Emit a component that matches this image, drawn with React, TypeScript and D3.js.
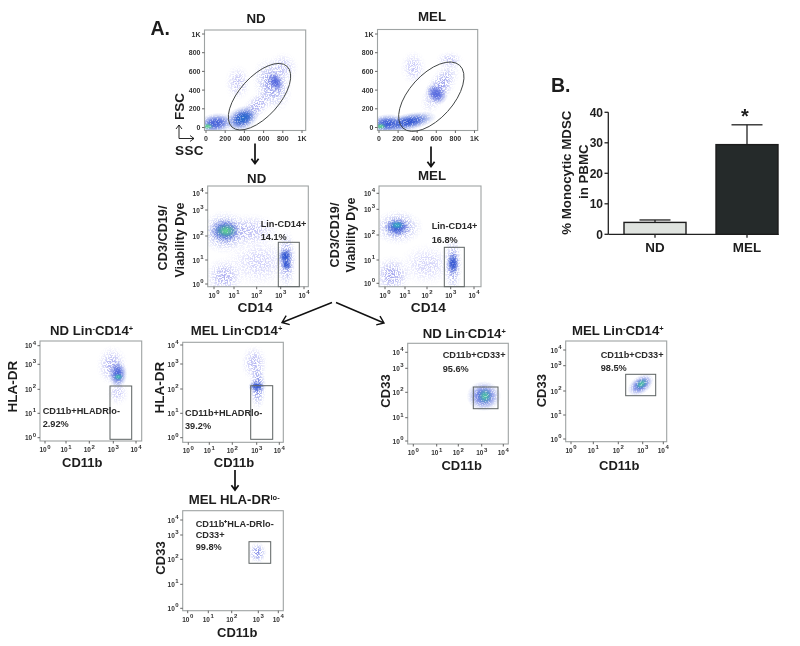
import React from "react";
import * as d3 from "d3";

// ---------- data ----------
// population summaries: [centre x, centre y, extent x, extent y, tilt deg, relative density]
type Cloud = number[];
const ndScatterClouds: Cloud[] = [
  [330, 480, 140, 200, 0, 0.13],
  [800, 640, 170, 170, 0, 0.12],
  [530, 230, 260, 120, 45, 0.26],
  [690, 460, 200, 300, 20, 0.38],
  [725, 490, 80, 120, 30, 0.6],
  [100, 45, 200, 110, 8, 0.68],
  [375, 95, 185, 130, 25, 0.76],
  [385, 100, 120, 75, 25, 0.84],
  [18, 12, 65, 38, 0, 1],
];
const melScatterClouds: Cloud[] = [
  [360, 640, 140, 190, 0, 0.12],
  [740, 720, 150, 100, 0, 0.12],
  [640, 430, 340, 140, 58, 0.34],
  [600, 360, 100, 130, 50, 0.6],
  [80, 40, 200, 105, 5, 0.72],
  [310, 60, 300, 95, 12, 0.78],
  [18, 12, 65, 38, 0, 1],
];
const ndLineageClouds: Cloud[] = [
  [1.7, 2.2, 1.3, 0.7, 0, 0.16],
  [2.1, 0.9, 1.5, 1.1, 0, 0.05],
  [0.5, 0.3, 0.95, 0.85, 0, 0.24],
  [0.55, 2.15, 1.2, 0.85, 0, 0.42],
  [3.25, 1.0, 0.45, 1.3, 0, 0.38],
  [0.55, 2.2, 0.75, 0.5, 0, 0.74],
  [3.2, 1.15, 0.32, 0.36, 0, 0.8],
  [3.25, 0.8, 0.25, 0.26, 0, 0.78],
  [0.6, 2.2, 0.55, 0.3, 0, 1],
];
const melLineageClouds: Cloud[] = [
  [2.0, 0.8, 1.2, 0.9, 0, 0.05],
  [0.35, 0.35, 0.95, 0.85, 0, 0.3],
  [0.65, 2.3, 1.2, 0.7, 0, 0.4],
  [3.1, 0.8, 0.42, 1.25, 0, 0.4],
  [0.6, 2.3, 0.65, 0.38, 0, 0.72],
  [3.1, 0.85, 0.28, 0.5, 0, 0.76],
  [0.6, 2.38, 0.38, 0.18, 0, 0.93],
];
const ndDrClouds: Cloud[] = [
  [2.95, 2.95, 0.7, 1.1, 0, 0.26],
  [3.2, 1.85, 0.5, 0.55, 0, 0.08],
  [3.2, 2.6, 0.42, 0.62, 0, 0.65],
  [3.22, 2.5, 0.24, 0.16, 0, 0.95],
];
const melDrClouds: Cloud[] = [
  [2.9, 3.05, 0.6, 1, 0, 0.2],
  [3.05, 2.1, 0.38, 1, 0, 0.48],
  [3.0, 2.1, 0.38, 0.24, 0, 0.74],
];
const ndCd33Clouds: Cloud[] = [
  [3.1, 1.85, 0.8, 0.62, 0, 0.62],
  [3.15, 1.85, 0.36, 0.34, 0, 0.97],
];
const melCd33Clouds: Cloud[] = [
  [2.92, 2.24, 0.7, 0.36, 35, 0.62],
  [2.95, 2.28, 0.36, 0.2, 35, 0.97],
];
const hlaLowCd33Clouds: Cloud[] = [[2.97, 2.27, 0.46, 0.46, 0, 0.42]];

const scatterTicks = [0, 200, 400, 600, 800, 1000];
const decades = [0, 1, 2, 3, 4];

const barCategories = ["ND", "MEL"];
const barValues = [3.9, 29.4];
const barErrorTops = [4.7, 35.9];
const barTicks = [0, 10, 20, 30, 40];

// ---------- look ----------
const SANS = "'Liberation Sans', Arial, sans-serif";
const INK = "#1d1d1d";
const density = d3
  .scaleLinear<string>()
  .domain([0, 0.3, 0.6, 0.8, 0.92, 1])
  .range(["#d9d9fb", "#a3a5ee", "#5468de", "#2b52cf", "#2fa6c8", "#5fd38f"]);

let gradId = 0;

function Blobs({ clouds, xs, ys }: { clouds: Cloud[]; xs: any; ys: any }) {
  const rows = clouds.map((c) => ({ c, id: `g${gradId++}` }));
  const grainy = rows.filter((r) => r.c[5] < 0.6);
  const solid = rows.filter((r) => r.c[5] >= 0.6);
  const draw = (r: { c: Cloud; id: string }, tag = "") => {
    const [cx, cy, sx, sy, tilt] = r.c;
    const px = xs(cx);
    const py = ys(cy);
    const rx = Math.abs(xs(cx + sx) - px);
    const ry = Math.abs(ys(cy + sy) - py);
    return (
      <ellipse
        key={r.id + tag}
        cx={px}
        cy={py}
        rx={rx}
        ry={ry}
        fill={`url(#${r.id})`}
        transform={`rotate(${-tilt} ${px} ${py})`}
      />
    );
  };
  return (
    <g>
      <defs>
        {rows.map((r) => (
          <radialGradient key={r.id} id={r.id}>
            <stop offset="0" stopColor={density(r.c[5])} stopOpacity={1} />
            <stop offset="0.3" stopColor={density(r.c[5])} stopOpacity={0.78} />
            <stop offset="0.6" stopColor={density(r.c[5])} stopOpacity={0.32} />
            <stop offset="0.8" stopColor={density(r.c[5])} stopOpacity={0.1} />
            <stop offset="1" stopColor={density(r.c[5])} stopOpacity={0} />
          </radialGradient>
        ))}
      </defs>
      <g filter="url(#grain)">{grainy.map((r) => draw(r))}</g>
      <g opacity={0.55}>{solid.map((r) => draw(r, "u"))}</g>
      <g filter="url(#grainFine)">{solid.map((r) => draw(r))}</g>
    </g>
  );
}

type Frame = { x0: number; x1: number; y0: number; y1: number };
let clipId = 0;

function Panel({
  frame,
  xRange,
  yRange,
  clouds,
  linear,
  children,
}: {
  frame: Frame;
  xRange: number[];
  yRange: number[];
  clouds: Cloud[];
  linear?: boolean;
  children?: React.ReactNode;
}) {
  const ticks = linear ? scatterTicks : decades;
  const xs = d3.scaleLinear().domain(linear ? [0, 1000] : decades).range(xRange);
  const ys = d3.scaleLinear().domain(linear ? [0, 1000] : decades).range(yRange);
  const id = `clip${clipId++}`;
  const fmt = (t: number) => (t === 1000 ? "1K" : String(t));
  return (
    <g>
      <clipPath id={id}>
        <rect x={frame.x0} y={frame.y0} width={frame.x1 - frame.x0} height={frame.y1 - frame.y0} />
      </clipPath>
      <g clipPath={`url(#${id})`}>
        <Blobs clouds={clouds} xs={xs} ys={ys} />
      </g>
      <rect
        x={frame.x0}
        y={frame.y0}
        width={frame.x1 - frame.x0}
        height={frame.y1 - frame.y0}
        fill="none"
        stroke="#9ea3a3"
        strokeWidth={1.1}
      />
      {ticks.map((t) => (
        <g key={t}>
          <line x1={xs(t)} x2={xs(t)} y1={frame.y1} y2={frame.y1 + 2.5} stroke="#555" strokeWidth={0.9} />
          <line x1={frame.x0} x2={frame.x0 - 2.5} y1={ys(t)} y2={ys(t)} stroke="#555" strokeWidth={0.9} />
          {linear ? (
            <>
              <text x={xs(t)} y={frame.y1 + 10} textAnchor="middle" fontSize={7} fontWeight={700} fill="#333">
                {fmt(t)}
              </text>
              <text x={frame.x0 - 4} y={ys(t) + 2.5} textAnchor="end" fontSize={7} fontWeight={700} fill="#333">
                {fmt(t)}
              </text>
            </>
          ) : (
            <>
              <text x={xs(t)} y={frame.y1 + 11} textAnchor="middle" fontSize={6.5} fontWeight={700} fill="#333">
                10
                <tspan dy={-3.5} dx={0.5} fontSize={6}>
                  {t}
                </tspan>
              </text>
              <text x={frame.x0 - 4} y={ys(t) + 2.5} textAnchor="end" fontSize={6.5} fontWeight={700} fill="#333">
                10
                <tspan dy={-3.5} dx={0.5} fontSize={6}>
                  {t}
                </tspan>
              </text>
            </>
          )}
        </g>
      ))}
      {children}
    </g>
  );
}

function Gate({ x0, y0, x1, y1 }: { x0: number; y0: number; x1: number; y1: number }) {
  return <rect x={x0} y={y0} width={x1 - x0} height={y1 - y0} fill="none" stroke="#5c6262" strokeWidth={1} />;
}

function Oval({ cx, cy, a, b }: { cx: number; cy: number; a: number; b: number }) {
  return (
    <ellipse cx={cx} cy={cy} rx={a} ry={b} fill="none" stroke="#3c4040" strokeWidth={0.9} transform={`rotate(-48 ${cx} ${cy})`} />
  );
}

function Label({ x, y, size = 13.3, anchor = "middle", children }: any) {
  return (
    <text x={x} y={y} fontSize={size} fontWeight={700} textAnchor={anchor} fill={INK}>
      {children}
    </text>
  );
}

function VLabel({ x, y, size = 13, children }: any) {
  return (
    <text transform={`translate(${x} ${y}) rotate(-90)`} fontSize={size} fontWeight={700} textAnchor="middle" fill={INK}>
      {children}
    </text>
  );
}

function Note({ x, y, lines, step = 13.4 }: { x: number; y: number; lines: string[]; step?: number }) {
  return (
    <g>
      {lines.map((l, i) => (
        <text key={l} x={x} y={y + i * step} fontSize={9.2} fontWeight={700} fill="#2a2a2a">
          {l}
        </text>
      ))}
    </g>
  );
}

function Arrow({ x1, y1, x2, y2, head = 6, w = 1.7 }: any) {
  const ang = Math.atan2(y2 - y1, x2 - x1);
  const p = (d: number) => `${x2 + head * Math.cos(ang + d)} ${y2 + head * Math.sin(ang + d)}`;
  const s = 2.5;
  return (
    <path
      d={`M${x1} ${y1}L${x2} ${y2}M${p(s)}L${x2} ${y2}L${p(-s)}`}
      fill="none"
      stroke="#111"
      strokeWidth={w}
    />
  );
}

function Sup({ children }: any) {
  return (
    <tspan fontSize={7.5} dy={-4}>
      {children}
    </tspan>
  );
}
function Base({ children }: any) {
  return <tspan dy={4}>{children}</tspan>;
}

function BarChart() {
  const y = d3.scaleLinear().domain([0, 40]).range([234.3, 112.3]);
  const bw = 62;
  const centres = [655, 747];
  const fills = ["#dfe3df", "#252a2a"];
  return (
    <g>
      <line x1={608.3} x2={778.5} y1={y(0)} y2={y(0)} stroke="#222" strokeWidth={1.3} />
      <line x1={608.3} x2={608.3} y1={y(40)} y2={y(0)} stroke="#222" strokeWidth={1.3} />
      {barTicks.map((t) => (
        <g key={t}>
          <line x1={604.5} x2={608.3} y1={y(t)} y2={y(t)} stroke="#222" strokeWidth={1.3} />
          <text x={603} y={y(t) + 4.5} textAnchor="end" fontSize={12} fontWeight={700} fill={INK}>
            {t}
          </text>
        </g>
      ))}
      {barCategories.map((c, i) => (
        <g key={c}>
          <line x1={centres[i]} x2={centres[i]} y1={y(barValues[i])} y2={y(barErrorTops[i])} stroke="#222" strokeWidth={1.3} />
          <line x1={centres[i] - 15.5} x2={centres[i] + 15.5} y1={y(barErrorTops[i])} y2={y(barErrorTops[i])} stroke="#222" strokeWidth={1.3} />
          <rect
            x={centres[i] - bw / 2}
            y={y(barValues[i])}
            width={bw}
            height={y(0) - y(barValues[i])}
            fill={fills[i]}
            stroke="#1c1c1c"
            strokeWidth={1.4}
          />
          <line x1={centres[i]} x2={centres[i]} y1={y(0)} y2={y(0) + 3.5} stroke="#222" strokeWidth={1.3} />
          <text x={centres[i]} y={252} textAnchor="middle" fontSize={13.4} fontWeight={700} fill={INK}>
            {c}
          </text>
        </g>
      ))}
      <text x={745} y={123} textAnchor="middle" fontSize={20} fontWeight={700} fill={INK}>
        *
      </text>
      <VLabel x={571} y={172.7} size={13.3}>
        % Monocytic MDSC
      </VLabel>
      <VLabel x={587.5} y={171.7} size={13.3}>
        in PBMC
      </VLabel>
      <text x={551} y={92} fontSize={19.5} fontWeight={700} fill={INK}>
        B.
      </text>
    </g>
  );
}

export default function App() {
  gradId = 0;
  clipId = 0;
  return (
    <svg
      width={800}
      height={646}
      viewBox="0 0 800 646"
      style={{ position: "absolute", left: 0, top: 0, background: "#fff" }}
      fontFamily={SANS}
    >
      <defs>
        <filter id="grain" x="0" y="0" width="800" height="646" filterUnits="userSpaceOnUse" colorInterpolationFilters="sRGB">
          <feTurbulence type="fractalNoise" baseFrequency="0.7" numOctaves={2} seed={4} result="n" />
          <feColorMatrix in="n" type="matrix" values="0 0 0 0 0  0 0 0 0 0  0 0 0 0 0  7 0 0 0 -3" result="t" />
          <feComposite in="SourceGraphic" in2="t" operator="in" result="c" />
          <feGaussianBlur in="c" stdDeviation="0.4" />
        </filter>
        <filter id="grainFine" x="0" y="0" width="800" height="646" filterUnits="userSpaceOnUse" colorInterpolationFilters="sRGB">
          <feTurbulence type="fractalNoise" baseFrequency="0.8" numOctaves={2} seed={9} result="n" />
          <feColorMatrix in="n" type="matrix" values="0 0 0 0 0  0 0 0 0 0  0 0 0 0 0  6 0 0 0 -1.8" result="t" />
          <feComposite in="SourceGraphic" in2="t" operator="in" result="c" />
          <feGaussianBlur in="c" stdDeviation="0.45" />
        </filter>
        <filter id="soft" x="0" y="0" width="800" height="646" filterUnits="userSpaceOnUse" colorInterpolationFilters="sRGB">
          <feGaussianBlur stdDeviation="0.42" />
        </filter>
      </defs>
      <rect width={800} height={646} fill="#fff" />
      <g filter="url(#soft)">
        <rect width={800} height={646} fill="#fff" />

        <text x={150.5} y={35} fontSize={19.5} fontWeight={700} fill={INK}>
          A.
        </text>

        {/* top row */}
        <Label x={256} y={23}>ND</Label>
        <Label x={432} y={21}>MEL</Label>
        <Panel
          linear
          frame={{ x0: 204.5, x1: 305.7, y0: 30, y1: 130.5 }}
          xRange={[206, 302]}
          yRange={[127.5, 34]}
          clouds={ndScatterClouds}
        >
          <Oval cx={259.5} cy={96.7} a={41} b={20} />
        </Panel>
        <Panel
          linear
          frame={{ x0: 377.5, x1: 477.7, y0: 29.5, y1: 130.5 }}
          xRange={[379, 474.5]}
          yRange={[127.5, 34]}
          clouds={melScatterClouds}
        >
          <Oval cx={431.3} cy={96.7} a={42.3} b={22} />
        </Panel>
        <VLabel x={184} y={106.5} size={13.5}>FSC</VLabel>
        <text x={175} y={155} fontSize={13.5} fontWeight={700} letterSpacing={0.4} fill={INK}>SSC</text>
        <Arrow x1={179} y1={138.5} x2={179} y2={125} head={5} w={0.9} />
        <Arrow x1={179} y1={138.5} x2={194} y2={138.5} head={5} w={0.9} />
        <Arrow x1={255} y1={143.5} x2={255} y2={163.5} />
        <Arrow x1={431} y1={146.5} x2={431} y2={166.5} />

        {/* second row */}
        <Label x={256.7} y={183}>ND</Label>
        <Label x={432} y={180}>MEL</Label>
        <Panel
          frame={{ x0: 207.7, x1: 308.3, y0: 186, y1: 286.7 }}
          xRange={[214, 234, 256.7, 280.7, 304]}
          yRange={[284, 260, 236, 210, 193]}
          clouds={ndLineageClouds}
        >
          <Gate x0={278.3} y0={242.3} x1={299.3} y1={286.7} />
          <Note x={260.7} y={226.7} lines={["Lin-CD14+", "14.1%"]} />
        </Panel>
        <Panel
          frame={{ x0: 379, x1: 481, y0: 186, y1: 286.7 }}
          xRange={[385, 405, 427, 450.7, 474]}
          yRange={[283.3, 260, 235, 209.3, 193.3]}
          clouds={melLineageClouds}
        >
          <Gate x0={444.3} y0={247.3} x1={464.3} y1={286.7} />
          <Note x={431.7} y={229.3} lines={["Lin-CD14+", "16.8%"]} />
        </Panel>
        <VLabel x={167} y={238} size={12.7}>CD3/CD19/</VLabel>
        <VLabel x={184} y={240} size={12.7}>Viability Dye</VLabel>
        <VLabel x={339} y={235} size={12.7}>CD3/CD19/</VLabel>
        <VLabel x={355} y={235} size={12.7}>Viability Dye</VLabel>
        <Label x={255} y={312} size={13.7}>CD14</Label>
        <Label x={428.3} y={312} size={13.7}>CD14</Label>
        <Arrow x1={332} y1={302.5} x2={282} y2={322.5} head={8} w={1.4} />
        <Arrow x1={336} y1={302.5} x2={384} y2={323} head={8} w={1.4} />

        {/* third row */}
        <Label x={50} y={335} anchor="start" size={13.2}>
          ND Lin<Sup>-</Sup><Base>CD14</Base><Sup>+</Sup>
        </Label>
        <Label x={190.7} y={335} anchor="start" size={13.2}>
          MEL Lin<Sup>-</Sup><Base>CD14</Base><Sup>+</Sup>
        </Label>
        <Panel
          frame={{ x0: 40, x1: 141.7, y0: 341, y1: 441 }}
          xRange={[45, 66, 89.3, 113.3, 136]}
          yRange={[437.7, 413.3, 389.3, 364.3, 345.7]}
          clouds={ndDrClouds}
        >
          <Gate x0={110} y0={386} x1={131.7} y1={439.3} />
          <Note x={42.7} y={414} lines={["CD11b+HLADRlo-", "2.92%"]} />
        </Panel>
        <Panel
          frame={{ x0: 182.7, x1: 283.3, y0: 342.3, y1: 442.3 }}
          xRange={[188.3, 209.3, 232.3, 256.7, 279.3]}
          yRange={[437.7, 413.3, 389, 364, 345]}
          clouds={melDrClouds}
        >
          <Gate x0={250.7} y0={385.7} x1={272.7} y1={439.3} />
          <Note x={185} y={416} lines={["CD11b+HLADRlo-", "39.2%"]} />
        </Panel>
        <VLabel x={17} y={386.7} size={13.5}>HLA-DR</VLabel>
        <VLabel x={164} y={387.5} size={13.5}>HLA-DR</VLabel>
        <Label x={82.3} y={467} size={13}>CD11b</Label>
        <Label x={234} y={467} size={13}>CD11b</Label>

        <Label x={422.7} y={337.7} anchor="start" size={13.2}>
          ND Lin<Sup>-</Sup><Base>CD14</Base><Sup>+</Sup>
        </Label>
        <Label x={572} y={335} anchor="start" size={13.2}>
          MEL Lin<Sup>-</Sup><Base>CD14</Base><Sup>+</Sup>
        </Label>
        <Panel
          frame={{ x0: 407.7, x1: 508.3, y0: 343.3, y1: 444 }}
          xRange={[413.3, 436.7, 458.3, 481.7, 503.3]}
          yRange={[441, 417.7, 392.3, 368.3, 352.3]}
          clouds={ndCd33Clouds}
        >
          <Gate x0={473.3} y0={387} x1={498} y1={408.7} />
          <Note x={442.7} y={357.7} lines={["CD11b+CD33+", "95.6%"]} step={14} />
        </Panel>
        <Panel
          frame={{ x0: 565.7, x1: 666.7, y0: 341, y1: 441.7 }}
          xRange={[571, 593.3, 618.3, 642.7, 663.3]}
          yRange={[439, 415, 391, 365.7, 350]}
          clouds={melCd33Clouds}
        >
          <Gate x0={625.7} y0={374.3} x1={655.7} y1={395.7} />
          <Note x={600.7} y={357.7} lines={["CD11b+CD33+", "98.5%"]} step={12.8} />
        </Panel>
        <VLabel x={390} y={391} size={13}>CD33</VLabel>
        <VLabel x={545.5} y={390.7} size={13}>CD33</VLabel>
        <Label x={461.7} y={470} size={13}>CD11b</Label>
        <Label x={619.3} y={470} size={13}>CD11b</Label>

        {/* bottom */}
        <Arrow x1={235} y1={470} x2={235} y2={490} />
        <Label x={188.7} y={504.3} anchor="start" size={13.2}>
          MEL HLA-DR<Sup>lo-</Sup>
        </Label>
        <Panel
          frame={{ x0: 182.7, x1: 283.3, y0: 510.7, y1: 610.7 }}
          xRange={[187.7, 208.3, 231.7, 258.3, 278.3]}
          yRange={[608.3, 584.3, 559.3, 535, 520]}
          clouds={hlaLowCd33Clouds}
        >
          <Gate x0={249} y0={541.7} x1={270.7} y1={563.3} />
          <Note x={195.7} y={526.7} lines={["CD11b⁺HLA-DRlo-", "CD33+", "99.8%"]} step={11.7} />
        </Panel>
        <VLabel x={164.5} y={558} size={13}>CD33</VLabel>
        <Label x={237.3} y={637} size={13}>CD11b</Label>

        <BarChart />
      </g>
    </svg>
  );
}
